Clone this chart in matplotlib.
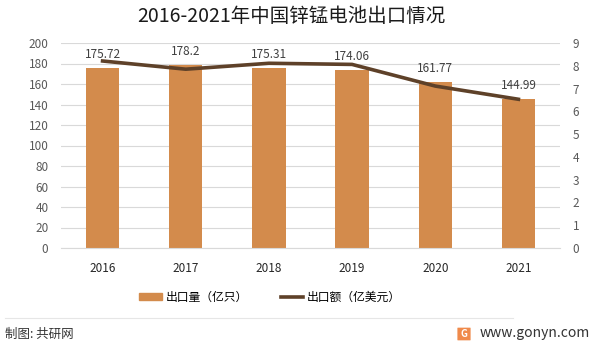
import matplotlib.pyplot as plt
import numpy as np
from matplotlib.patches import FancyBboxPatch
from matplotlib.lines import Line2D

plt.rcParams['font.family'] = ['Noto Sans CJK SC', 'DejaVu Sans']

# datos
anios = ['2016', '2017', '2018', '2019', '2020', '2021']
cantidad = [175.72, 178.2, 175.31, 174.06, 161.77, 144.99]   # 出口量（亿只）
monto = [8.21, 7.85, 8.11, 8.06, 7.11, 6.53]                 # 出口额（亿美元）

color_barra = '#D38B4C'
color_linea = '#5E4129'
color_texto = '#595959'

fig = plt.figure(figsize=(6.02, 3.45), dpi=100)
ax = fig.add_axes([61 / 602, 1 - 248 / 345, 499 / 602, 205 / 345])
ax2 = ax.twinx()

x = np.arange(len(anios))
ax.bar(x, cantidad, width=0.4, color=color_barra, zorder=2)
for xi, v in zip(x, cantidad):
    ax.annotate(f'{v:g}', (xi, v), xytext=(0, 5), textcoords='offset points',
                ha='center', va='bottom', fontsize=8.5, color='#404040')

ax2.plot(x, monto, color=color_linea, linewidth=2.6, zorder=3)

ax.set_xlim(-0.5, len(anios) - 0.5)
ax.set_ylim(0, 200)
ax.set_yticks(np.arange(0, 201, 20))
ax2.set_ylim(0, 9)
ax2.set_yticks(np.arange(0, 10, 1))
ax.set_xticks(x)
ax.set_xticklabels(anios)

ax.grid(axis='y', color='#D9D9D9', linewidth=0.8, zorder=0)
ax.set_axisbelow(True)
for a in (ax, ax2):
    for s in a.spines.values():
        s.set_visible(False)
ax.spines['bottom'].set_visible(True)
ax.spines['bottom'].set_color('#D9D9D9')
ax.tick_params(axis='y', length=0, labelsize=8.5, labelcolor=color_texto, pad=9)
ax.tick_params(axis='x', length=0, labelsize=8.5, labelcolor='#262626', pad=10)
ax2.tick_params(axis='y', length=0, labelsize=8.5, labelcolor=color_texto, pad=9)

fig.text(291 / 602, 1 - 17 / 345, '2016-2021年中国锌锰电池出口情况', ha='center', va='center',
         fontsize=14, color='#1a1a1a')

# leyenda
handles = [plt.Rectangle((0, 0), 1, 1, color=color_barra),
           Line2D([0], [0], color=color_linea, linewidth=2.6)]
fig.legend(handles, ['出口量（亿只）', '出口额（亿美元）'], loc='center',
           bbox_to_anchor=(270 / 602, 1 - 297 / 345), ncol=2, frameon=False,
           fontsize=8.5, handlelength=1.9, handleheight=0.6, columnspacing=2.8,
           handletextpad=0.3)

# pie de figura
fig.add_artist(Line2D([5 / 602, 513 / 602], [1 - 318 / 345, 1 - 318 / 345],
                      color='#E6E6E6', linewidth=0.8))
fig.text(5 / 602, 1 - 334 / 345, '制图: 共研网', ha='left', va='center',
         fontsize=9, color='#333333')
fig.text(590 / 602, 1 - 333 / 345, 'www.gonyn.com', ha='right', va='center',
         fontsize=10, color='#333333')
logo = FancyBboxPatch((458 / 602, 1 - 340 / 345), 12 / 602, 12 / 345,
                      boxstyle='round,pad=0.001', transform=fig.transFigure,
                      facecolor='#F08A4B', edgecolor='none')
fig.add_artist(logo)
fig.text(464 / 602, 1 - 334 / 345, 'G', ha='center', va='center',
         fontsize=7, color='white', fontweight='bold')

fig.savefig('out.png', dpi=100)
